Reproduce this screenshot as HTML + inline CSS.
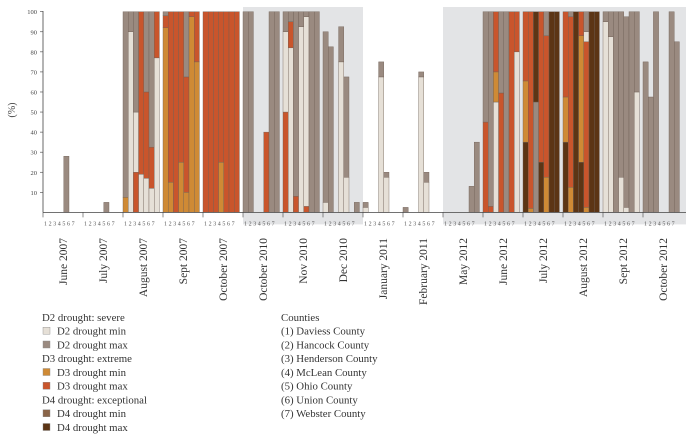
<!DOCTYPE html>
<html><head><meta charset="utf-8"><style>
html,body{margin:0;padding:0;background:#fff;width:692px;height:439px;overflow:hidden}
svg{display:block;font-family:"Liberation Serif",serif}
</style></head><body>
<svg id="chart" width="692" height="439" viewBox="0 0 692 439" xmlns="http://www.w3.org/2000/svg"></svg>
<script>
const months = ["June 2007","July 2007","August 2007","Sept 2007","October 2007","October 2010","Nov 2010","Dec 2010","January 2011","February 2011","May 2012","June 2012","July 2012","August 2012","Sept 2012","October 2012"];
const yTicks = [10,20,30,40,50,60,70,80,90,100];
const counties = ["1","2","3","4","5","6","7"];
const shadedRanges = [[5,7],[10,15]];
// each bar: list of [category, cumulative top %] from bottom
const barsJune07 = [[],[],[],[],[["b",28]],[],[]];
const barsJuly07 = [[],[],[],[],[["b",5]],[],[]];
const barsAug07 = [[["c",7.5],["b",100]],[["a",90],["b",100]],[["d",20],["a",50],["b",100]],[["a",19],["d",100]],[["a",17],["d",60],["b",100]],[["a",12],["d",32.5],["b",100]],[["a",77],["d",100]]];
const barsSept07 = [[["c",92],["d",98],["b",100]],[["c",15],["d",100]],[["d",100]],[["c",25],["d",100]],[["c",10],["d",67.5],["b",100]],[["c",97.5],["d",100]],[["c",75],["d",100]]];
const barsOct07 = [[["d",100]],[["d",100]],[["d",100]],[["c",25],["d",100]],[["d",100]],[["d",100]],[["d",100]]];
const barsOct10 = [[["b",100]],[["b",100]],[],[],[["d",40]],[["b",100]],[["b",100]]];
const barsNov10 = [[["d",50],["a",90],["b",100]],[["a",82],["d",95],["b",100]],[["d",8],["b",100]],[["a",92.5],["b",100]],[["d",3],["a",97.5],["b",100]],[["b",100]],[["b",100]]];
const barsDec10 = [[["a",5],["b",90]],[["b",82.5]],[],[["a",75],["b",92.5]],[["a",17.5],["b",67.5]],[],[["b",5]]];
const barsJan11 = [[["a",2.5],["b",5]],[],[],[["a",67.5],["b",75]],[["a",17.5],["b",20]],[],[]];
const barsFeb11 = [[["b",2.5]],[],[],[["a",67.5],["b",70]],[["a",15],["b",20]],[],[]];
const barsMay12 = [[],[],[],[],[],[["b",13]],[["b",35]]];
const barsJune12 = [[["d",45],["b",100]],[["d",3],["b",100]],[["a",55],["c",70],["d",100]],[["d",59.5],["b",100]],[["b",100]],[["d",100]],[["a",80],["d",100]]];
const barsJuly12 = [[["f",35],["c",65.5],["d",100]],[["c",2],["d",100]],[["b",55],["f",100]],[["f",25],["d",100]],[["c",17.5],["d",88],["b",100]],[["f",100]],[["f",100]]];
const barsAug12 = [[["f",35],["c",57.5],["d",100]],[["c",12.5],["d",97.5],["b",100]],[["f",100]],[["f",25],["c",88],["d",100]],[["c",2.5],["d",85],["a",90],["b",100]],[["f",100]],[["f",100]]];
const barsSept12 = [[["a",95],["b",100]],[["a",87.5],["b",100]],[["b",100]],[["a",17.5],["b",100]],[["a",2.5],["b",97.5]],[["b",100]],[["a",60],["b",100]]];
const barsOct12 = [[["b",75]],[["b",57.5]],[["b",100]],[],[],[["b",100]],[["b",85]]];
const groups = [barsJune07,barsJuly07,barsAug07,barsSept07,barsOct07,barsOct10,barsNov10,barsDec10,barsJan11,barsFeb11,barsMay12,barsJune12,barsJuly12,barsAug12,barsSept12,barsOct12];
const catColors = {a:"#e6e0d7",b:"#9a8a80",c:"#cf8a35",d:"#c9552c",e:"#8a6548",f:"#5c3515"};
const legendLabels = [["h","D2 drought: severe"],["a","D2 drought min"],["b","D2 drought max"],["h","D3 drought: extreme"],["c","D3 drought min"],["d","D3 drought max"],["h","D4 drought: exceptional"],["e","D4 drought min"],["f","D4 drought max"]];
const countyNames = ["Counties","(1) Daviess County","(2) Hancock County","(3) Henderson County","(4) McLean County","(5) Ohio County","(6) Union County","(7) Webster County"];

const NS="http://www.w3.org/2000/svg";
const svg=document.getElementById('chart');
const X0=43, GW=40, BW=5.2, Y0=212.4, PY=2.007;
const gx=g=>X0+g*GW;
const bx=(g,i)=>gx(g)+i*BW;
const y=v=>Y0-v*PY;
function el(t,a,p){const e=document.createElementNS(NS,t);for(const k in a)e.setAttribute(k,a[k]);(p||svg).appendChild(e);return e;}

shadedRanges.forEach(r=>{
  const e=el('rect',{x:gx(r[0]),y:7,width:(r[1]===15?686:gx(r[1]+1))-gx(r[0]),height:Y0+12-7,fill:"#e3e4e6"});
  
  
});

groups.forEach((bars,g)=>{
  bars.forEach((segs,i)=>{
    let prev=0;
    segs.forEach(s=>{
      const r=el('rect',{x:bx(g,i),y:y(s[1]),width:BW,height:(s[1]-prev)*PY,fill:catColors[s[0]],stroke:"#6f5f55","stroke-width":0.4});
      
      
      prev=s[1];
    });
  });
});

// axes
const ya=el('line',{x1:X0,y1:11,x2:X0,y2:Y0,stroke:"#444","stroke-width":0.8});


yTicks.forEach(v=>{
  el('line',{x1:X0-3,y1:y(v),x2:X0,y2:y(v),stroke:"#444","stroke-width":0.6});
  const t=el('text',{x:X0-6,y:y(v)+2.5,"font-size":6.5,"text-anchor":"end",fill:"#444"});
  t.textContent=v;
  
  
});
const yt=el('text',{x:15,y:110,"font-size":10,"text-anchor":"middle",fill:"#444",transform:"rotate(-90 15 110)"});
yt.textContent="(%)";


const xa=el('line',{x1:X0,y1:Y0,x2:686,y2:Y0,stroke:"#444","stroke-width":0.8});


months.forEach((m,g)=>{
  el('line',{x1:gx(g),y1:Y0,x2:gx(g),y2:Y0+5,stroke:"#444","stroke-width":0.6});
  counties.forEach((c,i)=>{
    const t=el('text',{x:gx(g)+2.5+i*4.6,y:Y0+13,"font-size":6,"text-anchor":"middle",fill:"#555"});
    t.textContent=c;
    
    
  });
  const cx=gx(g)+GW/2+4, cy=238;
  const t=el('text',{x:cx,y:cy,"font-size":11.5,"text-anchor":"end",fill:"#333",transform:`rotate(-90 ${cx} ${cy})`});
  t.textContent=m;
  
  
});

// legend
legendLabels.forEach((L,k)=>{
  const ly=317+k*13.75;
  if(L[0]!=="h"){
    const s=el('rect',{x:43,y:ly-3.5,width:7,height:7,fill:catColors[L[0]],stroke:"#888","stroke-width":0.4});
    
    
  }
  const t=el('text',{x:L[0]==="h"?42:57,y:ly+3.8,"font-size":10.8,fill:"#333"});
  t.textContent=L[1];
  
  
});
countyNames.forEach((n,k)=>{
  const t=el('text',{x:281,y:317+k*13.75+3.8,"font-size":10.8,fill:"#333"});
  t.textContent=n;
  
  
});
</script>
</body></html>
